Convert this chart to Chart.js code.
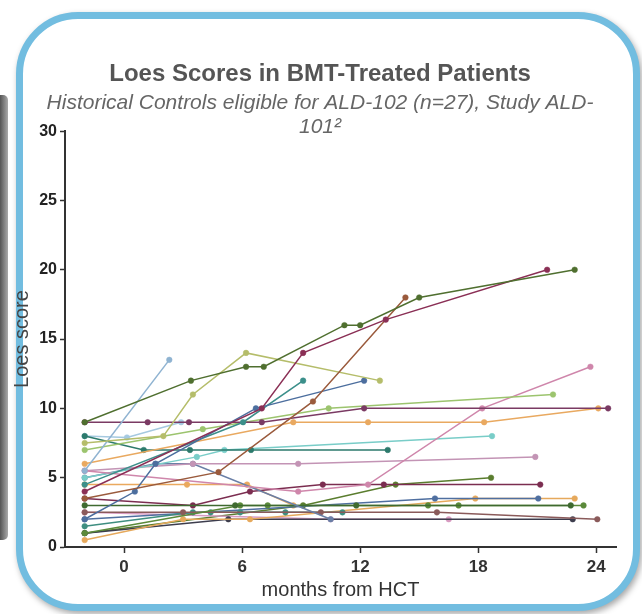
<!DOCTYPE html>
<html>
<head>
<meta charset="utf-8">
<script src="https://cdn.jsdelivr.net/npm/chart.js@4.4.1/dist/chart.umd.min.js"></script>
<style>
html,body{margin:0;padding:0;background:#fff;width:642px;height:614px;overflow:hidden;}
#wrap{position:relative;width:642px;height:614px;}
#box{position:absolute;left:16px;top:12px;width:610px;height:585px;border:7px solid #72bde0;border-radius:62px;box-shadow:2px 3px 6px rgba(0,0,0,0.35);background:#fff;}
#strip{position:absolute;left:0;top:95px;width:8px;height:445px;background:linear-gradient(to right,#555,#aaa);border-radius:0 5px 5px 0;}
canvas{position:absolute;left:0;top:0;}
</style>
</head>
<body>
<div id="wrap">
  <div id="strip"></div>
  <div id="box"></div>
  <canvas id="c" width="642" height="614"></canvas>
</div>
<script>
// ---- data ----
const chartTitle = 'Loes Scores in BMT-Treated Patients';
const chartSubtitle = ['Historical Controls eligible for ALD-102 (n=27), Study ALD-', '101\u00B2'];
const xAxisTitle = 'months from HCT';
const yAxisTitle = 'Loes score';
const xTickValues = [0, 6, 12, 18, 24];
const yTickValues = [0, 5, 10, 15, 20, 25, 30];

// months from HCT for each patient
const patientMonths = [
  [-2, 3.4, 6.2, 7.1, 11.2, 12, 15, 22.9],
  [-2, 7, 9.1, 13.3, 21.5],
  [-2, 4.8, 9.6, 14.3],
  [-2, 2, 3.5, 6.2, 13],
  [-2, 0.55, 1.6, 6.7, 12.2],
  [-2, 6.05, 9.1],
  [-2, 2.3],
  [-2, 1.2, 3.3, 7, 12.2, 24.6],
  [-2, 8.6, 12.4, 18.3, 24.1],
  [-2, 4, 10.4, 21.8],
  [-2, 8.85, 12.4, 18.2, 23.7],
  [-2, 1, 3.35, 6.45, 13.4],
  [-2, 0.15, 2.9],
  [-2, 3.7, 5.1, 18.7],
  [-2, 3.5, 8.85, 20.9],
  [-2, 1.6, 3.5, 10.5],
  [-2, 5.65, 11.8, 22.7],
  [-2, 5.9, 7.3, 15.45, 17, 23.35],
  [-2, 3, 10, 15.9, 24.05],
  [-2, 3.5, 4.4, 5.9, 8.2, 11.1],
  [-2, 15.8, 21.05],
  [-2, 3, 6.4, 17.85, 22.9],
  [-2, 5.3, 22.8],
  [-2, 10.5, 16.5],
  [-2, 3.5, 6.4, 10.1, 13.2, 21.15],
  [-2, 9.1, 13.8, 18.65],
  [-2, 3.2, 6.25, 8.6]
];
// Loes scores for each patient
const patientScores = [
  [9, 12, 13, 13, 16, 16, 18, 20],
  [4, 10, 14, 16.4, 20],
  [3.5, 5.4, 10.5, 18],
  [7.5, 8, 11, 14, 12],
  [2, 4, 6, 10, 12],
  [4.5, 9, 12],
  [5.5, 13.5],
  [9, 9, 9, 9, 10, 10],
  [6, 9, 9, 9, 10],
  [7, 8.5, 10, 11],
  [5.5, 4, 4.5, 10, 13],
  [8, 7, 7, 7, 7],
  [8, 7.9, 9],
  [5, 6.5, 7, 8],
  [5.5, 6, 6, 6.5],
  [5, 6, 6, 2],
  [3, 3, 3, 3],
  [1, 3, 3, 3, 3, 3],
  [2.5, 2.5, 2.5, 2.5, 2],
  [1.5, 2.5, 2.5, 2.5, 2.5, 2.5],
  [2, 3.5, 3.5],
  [0.5, 2, 2, 3.5, 3.5],
  [1, 2, 2],
  [2.5, 2, 2],
  [3.5, 3, 4, 4.5, 4.5, 4.5],
  [1, 3, 4.5, 5],
  [4.5, 4.5, 4.5, 3]
];
// styling (one colour per patient)
const patientColors = [
  '#4f6f2f', '#8a2f55', '#9a5a3c', '#b5bd6a', '#4c6e9e', '#3b8f8a', '#8fb3d1',
  '#7a3a63', '#e9a960', '#9cc46e', '#cf86ab', '#2c7a6c', '#a5c9e0', '#79cdc8',
  '#c394b5', '#6a7fa6', '#3f6a30', '#5b8a3a', '#8a5a5a', '#3e8e80', '#4f6fa0',
  '#e6a95c', '#3d3d4d', '#d79ac0', '#7b2d50', '#5a7d2e', '#eaa95e'
];

const datasets = patientMonths.map((ms, i) => ({
  label: 'Patient ' + (i + 1),
  data: ms.map((m, j) => ({ x: m, y: patientScores[i][j] })),
  showLine: true,
  borderColor: patientColors[i],
  backgroundColor: patientColors[i],
  pointBackgroundColor: patientColors[i],
  pointBorderColor: patientColors[i],
  borderWidth: 1.5,
  pointRadius: 2.8,
  pointBorderWidth: 0.5,
  tension: 0
}));

new Chart(document.getElementById('c'), {
  type: 'scatter',
  data: { datasets },
  options: {
    responsive: false,
    animation: false,
    layout: { padding: { left: 10, right: 12, top: 52, bottom: 12 } },
    plugins: {
      legend: { display: false },
      tooltip: { enabled: false },
      title: {
        display: true, text: chartTitle, color: '#555',
        font: { family: 'Liberation Sans, Arial, sans-serif', size: 24, weight: 'bold' },
        padding: { top: 8, bottom: 2 }
      },
      subtitle: {
        display: true, text: chartSubtitle, color: '#666',
        font: { family: 'Liberation Sans, Arial, sans-serif', size: 21, style: 'italic', lineHeight: 1.15 },
        padding: { top: 0, bottom: -8 }
      }
    },
    scales: {
      x: {
        type: 'linear', min: -3, max: 25,
        afterBuildTicks: s => { s.ticks = xTickValues.map(v => ({ value: v })); },
        afterFit: s => { s.height = 55; },
        ticks: { color: '#333', padding: 4, font: { family: 'Liberation Sans Narrow, Liberation Sans, Arial', size: 17, weight: 'bold' } },
        grid: { drawOnChartArea: false, drawTicks: true, tickLength: 6, tickColor: '#333', tickWidth: 1.5 },
        border: { color: '#333', width: 2 },
        title: { display: true, text: xAxisTitle, color: '#333', font: { family: 'Liberation Sans, Arial', size: 20 }, padding: { top: 0, bottom: 0 } }
      },
      y: {
        min: 0, max: 30,
        afterBuildTicks: s => { s.ticks = yTickValues.map(v => ({ value: v })); },
        afterFit: s => { s.width = 55; },
        ticks: { color: '#222', padding: 3, font: { family: 'Liberation Sans Narrow, Liberation Sans, Arial', size: 16, weight: 'bold' } },
        grid: { drawOnChartArea: false, drawTicks: true, tickLength: 5, tickColor: '#333', tickWidth: 1.5 },
        border: { color: '#333', width: 2 },
        title: { display: true, text: yAxisTitle, color: '#444', font: { family: 'Liberation Sans, Arial', size: 20 }, padding: { top: 0, bottom: 1 } }
      },
      yRightSpace: {
        position: 'right', min: 0, max: 30, display: true,
        afterFit: s => { s.width = 14; },
        ticks: { display: false },
        grid: { display: false },
        border: { display: false }
      }
    }
  }
});
</script>
</body>
</html>
